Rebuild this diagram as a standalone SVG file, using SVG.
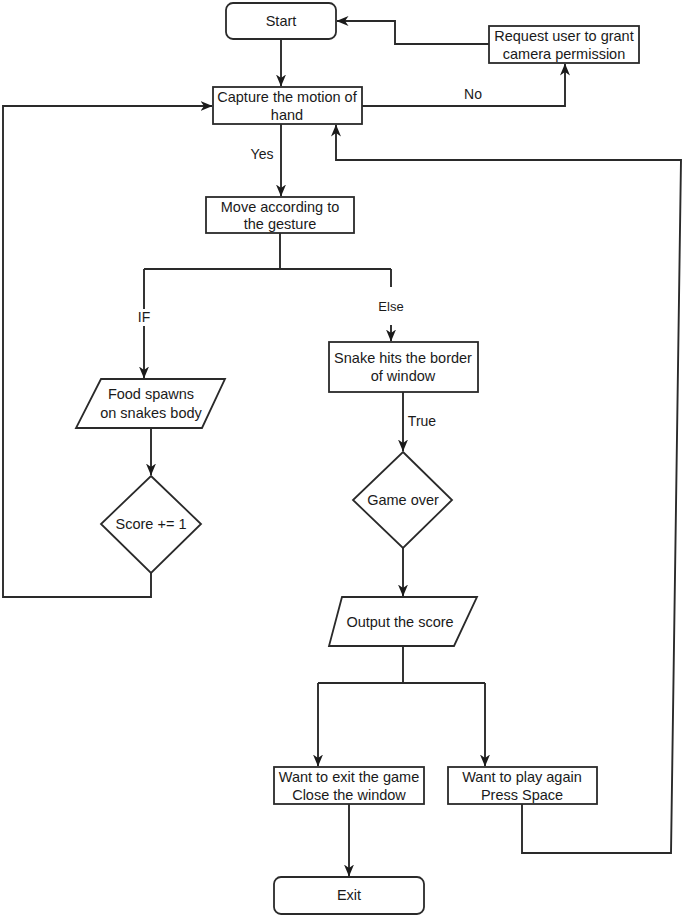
<svg xmlns="http://www.w3.org/2000/svg" width="685" height="916" viewBox="0 0 685 916">
<defs>
<marker id="arr" markerWidth="12" markerHeight="12" viewBox="0 0 12 12" refX="11.5" refY="6" orient="auto" markerUnits="userSpaceOnUse">
<path d="M0,1 L12,6 L0,11 L3.5,6 z" fill="#1a1a1a"/>
</marker>
<style>
.n{fill:#fff;stroke:#2a2a2a;stroke-width:1.8}
.t{font-family:"Liberation Sans",Arial,sans-serif;font-size:14.5px;fill:#1a1a1a;text-anchor:middle}
.l{font-family:"Liberation Sans",Arial,sans-serif;font-size:14px;fill:#1a1a1a;text-anchor:middle}
.c{fill:none;stroke:#2a2a2a;stroke-width:1.9}
.a{marker-end:url(#arr)}
</style>
</defs>
<rect width="685" height="916" fill="#fff"/>
<g id="connectors">
<path class="c a" d="M281,39 V86"/>
<path class="c a" d="M362,106 H565 V64"/>
<path class="c a" d="M489,44 H395 V21 H337"/>
<path class="c a" d="M281,124 V196"/>
<path class="c" d="M280,233 V269 M144,269 H391"/>
<path class="c" d="M144,269 V309"/>
<path class="c a" d="M144,326 V378"/>
<path class="c" d="M391,269 V287"/>
<path class="c a" d="M391,325 V341"/>
<path class="c a" d="M151,428 V475"/>
<path class="c a" d="M151,573 V597 H3 V106 H212"/>
<path class="c a" d="M403,392 V451"/>
<path class="c a" d="M403,548 V596"/>
<path class="c" d="M403,646 V683 M318,683 H485"/>
<path class="c a" d="M318,683 V766"/>
<path class="c a" d="M485,683 V766"/>
<path class="c a" d="M349,804 V876"/>
<path class="c a" d="M522,804 V853 H671 L681,160 H336 V125"/>
<text class="l" x="473" y="99">No</text>
<text class="l" x="262" y="159">Yes</text>
<text class="l" x="144" y="322">IF</text>
<text class="l" x="391" y="311" style="font-size:13px">Else</text>
<text class="l" x="422" y="426">True</text>
</g>
<g id="start"><rect class="n" x="226" y="3" width="110" height="36" rx="7"/><text class="t" x="281" y="26">Start</text></g>
<g id="request"><rect class="n" x="489" y="26" width="150" height="37"/><text class="t" x="564" y="41">Request user to grant</text><text class="t" x="564" y="59">camera permission</text></g>
<g id="capture"><rect class="n" x="213" y="87" width="149" height="37"/><text class="t" x="287" y="102">Capture the motion of</text><text class="t" x="287" y="120">hand</text></g>
<g id="move"><rect class="n" x="206" y="197" width="148" height="36"/><text class="t" x="280" y="212">Move according to</text><text class="t" x="280" y="229">the gesture</text></g>
<g id="food"><polygon class="n" points="101,379 225,379 202,428 76,428"/><text class="t" x="151" y="399">Food spawns</text><text class="t" x="151" y="418">on snakes body</text></g>
<g id="score"><polygon class="n" points="151,476 201,524 151,573 101,524"/><text class="t" x="151" y="529">Score += 1</text></g>
<g id="snake"><rect class="n" x="329" y="342" width="149" height="50"/><text class="t" x="403" y="363">Snake hits the border</text><text class="t" x="403" y="381">of window</text></g>
<g id="gameover"><polygon class="n" points="403,452 452,500 403,548 353,500"/><text class="t" x="403" y="505">Game over</text></g>
<g id="output"><polygon class="n" points="342,597 477,597 454,646 329,646"/><text class="t" x="400" y="627">Output the score</text></g>
<g id="exitgame"><rect class="n" x="274" y="767" width="150" height="37"/><text class="t" x="349" y="782">Want to exit the game</text><text class="t" x="349" y="800">Close the window</text></g>
<g id="playagain"><rect class="n" x="448" y="767" width="149" height="37"/><text class="t" x="522" y="782">Want to play again</text><text class="t" x="522" y="800">Press Space</text></g>
<g id="exit"><rect class="n" x="274" y="877" width="150" height="37" rx="7"/><text class="t" x="349" y="900">Exit</text></g>
</svg>
